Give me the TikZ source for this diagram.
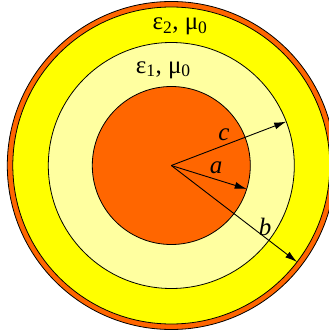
\documentclass[tikz,border=0pt]{standalone}
\usepackage{fontspec}
\setmainfont{Liberation Serif}
\usetikzlibrary{arrows.meta}
\definecolor{shellOrange}{RGB}{255,102,0}
\definecolor{outerYellow}{RGB}{255,255,0}
\definecolor{innerYellow}{RGB}{255,255,160}

\begin{document}
\begin{tikzpicture}[x=1pt,y=1pt,
    ring/.style={draw=black, line width=0.8pt},
    radius arrow/.style={-{Latex[length=12pt,width=7pt]}, line width=0.9pt},
    lbl/.style={font=\fontsize{25}{25}\selectfont}]
  % Radii (in px of the picture)
  \def\Ra{79}
  \def\Rc{123}
  \def\Rb{158.5}
  \def\Rs{164}
  \useasboundingbox (-171.3,-166.5) rectangle (157.7,165.5);
  % Outer conducting shell
  \fill[shellOrange, ring] (0,0) circle (\Rs);
  % Dielectric 2
  \fill[outerYellow, ring] (0,0) circle (\Rb);
  % Dielectric 1
  \fill[innerYellow, ring] (0,0) circle (\Rc);
  % Inner conductor
  \fill[shellOrange, ring] (0,0) circle (\Ra);
  % Centre and arrow ends
  \coordinate (O) at (0,0);
  \coordinate (A) at (-17.3:\Ra);
  \coordinate (C) at (20.9:\Rc);
  \coordinate (B) at (-37.5:\Rb);
  % Radius arrows
  \draw[radius arrow] (O) -- (C);
  \draw[radius arrow] (O) -- (A);
  \draw[radius arrow] (O) -- (B);
  % Labels
  \node[lbl] (labc) at (52.7,30.5) {\textit{c}};
  \node[lbl] (laba) at (44.7,-2.2) {\textit{a}};
  \node[lbl] (labb) at (93.7,-61.2) {\textit{b}};
  \node[lbl] (eps2) at (8.7,138.8) {ε\textsubscript{2}, μ\textsubscript{0}};
  \node[lbl] (eps1) at (-8,95.5) {ε\textsubscript{1}, μ\textsubscript{0}};
\end{tikzpicture}
\end{document}
